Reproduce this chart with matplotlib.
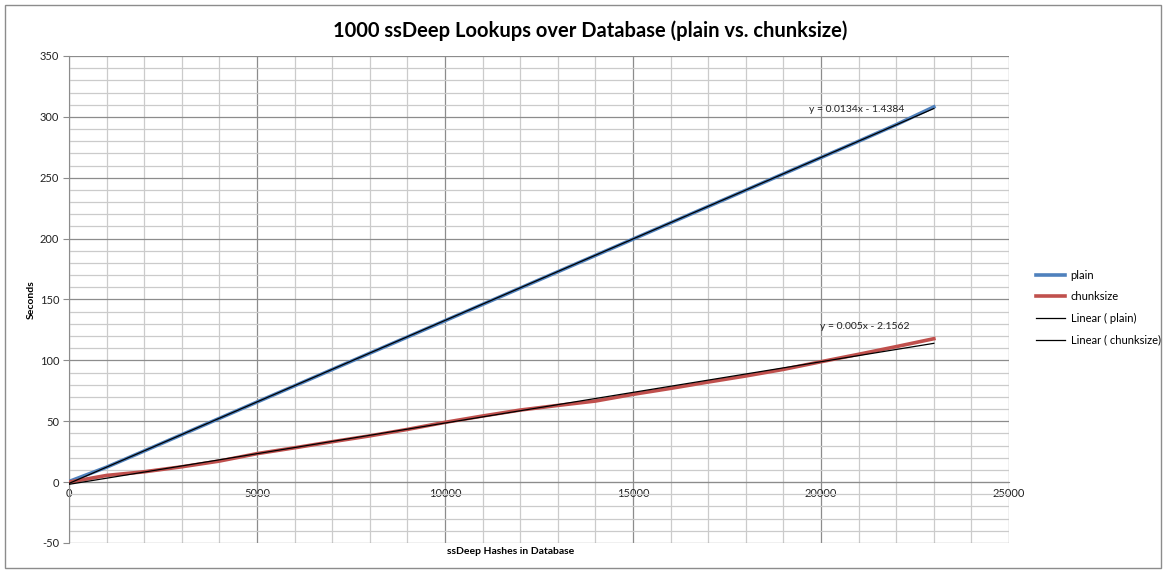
import numpy as np
import matplotlib
matplotlib.use("Agg")
import matplotlib.pyplot as plt
from matplotlib.patches import Rectangle
from matplotlib.ticker import MultipleLocator

# data (x in hashes, y in seconds)
hashes = [0, 1000, 2000, 3000, 4000, 5000, 6000, 7000, 8000, 9000, 10000, 11000,
          12000, 13000, 14000, 15000, 16000, 17000, 18000, 19000, 20000, 21000,
          22000, 23000]
plain = [0.5, 12.3, 25.6, 39.0, 52.4, 65.8, 79.1, 92.5, 105.9, 119.2, 132.6, 146.0,
         159.4, 172.8, 186.2, 199.6, 213.0, 226.4, 239.8, 253.2, 266.6, 280.0,
         293.6, 308.2]
chunksize = [0.0, 5.5, 8.5, 12.6, 17.3, 23.4, 28.2, 33.2, 38.0, 43.3, 49.1, 54.3,
             59.2, 63.0, 66.6, 72.1, 77.0, 82.2, 87.2, 92.6, 98.9, 105.0,
             111.3, 117.8]
eq_plain = "y = 0.0134x - 1.4384"
eq_chunk = "y = 0.005x - 2.1562"

title = "1000 ssDeep Lookups over Database (plain vs. chunksize)"

plt.rcParams['font.family'] = ['Lato', 'DejaVu Sans']
plt.rcParams['axes.unicode_minus'] = False

fig = plt.figure(figsize=(11.66, 5.72), dpi=100)
ax = fig.add_axes([0.0592, 0.0507, 0.8062, 0.8514])

x = np.array(hashes, dtype=float)
ax.plot(x, plain, color='#4F81BD', lw=2.6, label='plain', zorder=3)
ax.plot(x, chunksize, color='#C0504D', lw=2.6, label='chunksize', zorder=3)

# linear trendlines
p1 = np.polyfit(x, plain, 1)
p2 = np.polyfit(x, chunksize, 1)
ax.plot(x, np.polyval(p1, x), color='#000000', lw=0.9, label='Linear ( plain)', zorder=4)
ax.plot(x, np.polyval(p2, x), color='#000000', lw=0.9, label='Linear ( chunksize)', zorder=4)

ax.text(20950, 306, eq_plain, fontsize=7.5, ha='center', va='center', color='#222222')
ax.text(21150, 127.5, eq_chunk, fontsize=7.5, ha='center', va='center', color='#222222')

ax.set_xlim(0, 25000)
ax.set_ylim(-50, 350)
ax.xaxis.set_major_locator(MultipleLocator(5000))
ax.xaxis.set_minor_locator(MultipleLocator(1000))
ax.yaxis.set_major_locator(MultipleLocator(50))
ax.yaxis.set_minor_locator(MultipleLocator(10))
ax.grid(which='major', color='#8c8c8c', lw=0.9)
ax.grid(which='minor', color='#cbcbcb', lw=0.9)
ax.set_axisbelow(True)

ax.spines['bottom'].set_position(('data', 0))
ax.spines['bottom'].set_color('#8c8c8c')
ax.spines['left'].set_color('#8c8c8c')
ax.spines['top'].set_visible(False)
ax.spines['right'].set_visible(False)
ax.tick_params(axis='both', which='both', labelsize=8, colors='#8c8c8c', labelcolor='#222222')
ax.tick_params(axis='x', which='both', length=0, pad=4)
ax.tick_params(axis='y', which='major', length=4, pad=3)
ax.tick_params(axis='y', which='minor', length=0)

fig.text(0.0265, 0.477, 'Seconds', rotation=90, fontsize=7.5, fontweight='bold',
         ha='center', va='center')
fig.text(0.438, 0.036, 'ssDeep Hashes in Database', fontsize=7.5, fontweight='bold',
         ha='center', va='center')
fig.text(0.506, 0.947, title, fontsize=14.5, fontweight='bold', ha='center', va='center')

fig.legend(loc='upper left', bbox_to_anchor=(0.88, 0.546), frameon=False,
           fontsize=8, handlelength=2.6, labelspacing=0.95, handletextpad=0.5)

fig.patches.append(Rectangle((0.0043, 0.007), 0.9914, 0.984, transform=fig.transFigure,
                             fill=False, edgecolor='#8c8c8c', lw=1.0))

fig.savefig('out.png', dpi=100)
